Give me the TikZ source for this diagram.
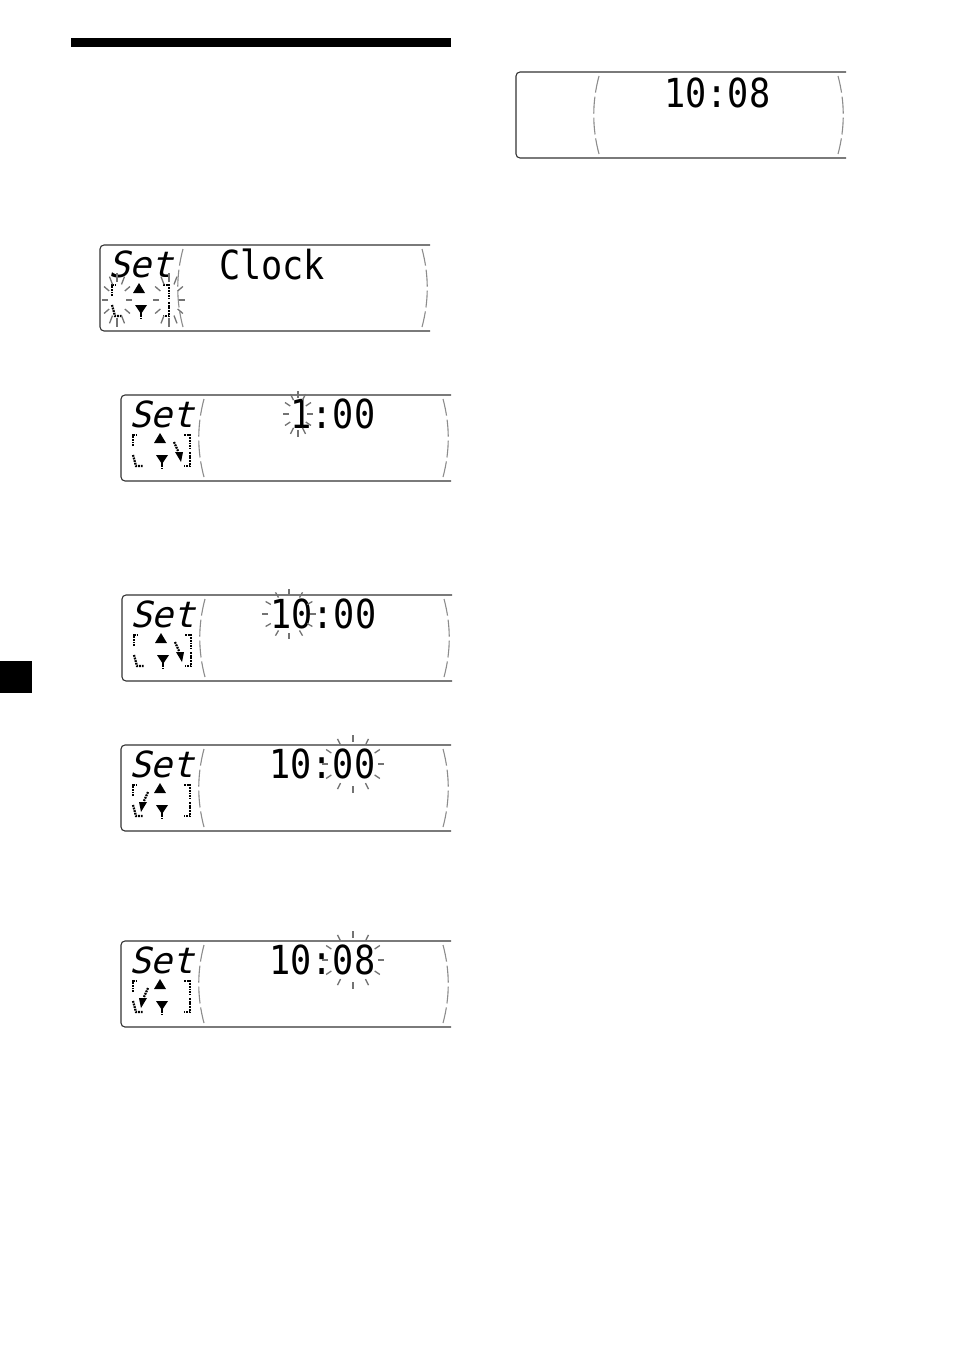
\documentclass[tikz,border=0pt]{standalone}
\usepackage{fontspec}
\newfontfamily\lcdfont[FakeStretch=0.88]{DejaVu Sans Mono}
\newfontfamily\lcdslant[FakeStretch=1.0,FakeSlant=0.25]{DejaVu Sans Mono}

\begin{document}
\begin{tikzpicture}[x=1pt, y=-1pt,
  lcdframe/.style={black!80, line width=1.1pt, rounded corners=4pt},
  bow/.style={black!45, line width=1.1pt, dash pattern=on 17pt off 4pt},
  blinkray/.style={black!55, line width=1.3pt},
  indic/.style={line width=2.2pt, dash pattern=on 1.8pt off 0.9pt},
  digits/.style={font=\lcdfont\fontsize{40}{40}\selectfont, inner sep=0pt, anchor=base east},
  settext/.style={font=\lcdslant\fontsize{36}{36}\selectfont, inner sep=0pt, anchor=base west}]
\useasboundingbox (0,0) rectangle (954,1351);
% heading bar and page tab
\fill (71,38) rectangle (451,47);
\fill (0,661) rectangle (32,693);
% display frames with the dashed side bows
\foreach \px/\py in {100/245,121/395,122/595,121/745,121/941,516/72}{
\begin{scope}[shift={(\px,\py)}]
  \draw[lcdframe] (330,0) -- (0,0) -- (0,86) -- (330,86);
  \draw[bow] (83,4) .. controls (76,30) and (76,56) .. (83,82);
  \draw[bow] (322,4) .. controls (329,30) and (329,56) .. (322,82);
\end{scope}}
% "Set" and the up/down indicators
\foreach \px/\py/\n in {100/245/1,121/395/2,122/595/3,121/745/4,121/941/5}{
\begin{scope}[shift={(\px,\py)}]
  \node[settext] (set\n) at (8,32) {Set};
  \draw[indic] (12,51) -- (12,40) -- (17,40);
  \fill (33,48) -- (39,38) -- (45,48) -- cycle;
  \draw[indic] (63,40) -- (69,40) -- (69,54);
  \draw[indic] (12,60) -- (15,71) -- (22,71);
  \fill (35,60) -- (47,60) -- (41,69) -- cycle;
  \draw[indic] (41,65) -- (41,74);
  \draw[indic] (69,57) -- (69,71) -- (63,71);
\end{scope}}
% right arrow (hour setting)
\foreach \px/\py in {121/395,122/595}{
\begin{scope}[shift={(\px,\py)}]
  \draw[indic] (53,47) -- (57,56);
  \fill (54,57) -- (62,57) -- (60,67) -- cycle;
\end{scope}}
% left arrow (minute setting)
\foreach \px/\py in {121/745,121/941}{
\begin{scope}[shift={(\px,\py)}]
  \draw[indic] (27,47) -- (23,56);
  \fill (26,57) -- (18,57) -- (20,67) -- cycle;
\end{scope}}
% display texts
\node[digits, anchor=base west] (clock) at (219,279) {Clock};
\node[digits] (time1) at (375.5,428) {1:00};
\node[digits] (time2) at (376.5,628) {10:00};
\node[digits] (time3) at (375.5,778) {10:00};
\node[digits] (time4) at (375.5,974) {10:08};
\node[digits] (time5) at (770.5,108) {10:08};
% blinking marks
\foreach \cx/\cy/\rx/\ry/\sx/\sy in {117/300/9/18/15/27, 169/300/10/18/16/27,
    298/414/9/16/15/23, 289/614/21/19/27/25, 353/764/25/22/31/29, 353/960/25/22/31/29}
  \foreach \a in {0,30,...,330}
    \draw[blinkray] ([shift={(\cx,\cy)}]\a:{\rx} and {\ry}) -- ([shift={(\cx,\cy)}]\a:{\sx} and {\sy});
\end{tikzpicture}
\end{document}
